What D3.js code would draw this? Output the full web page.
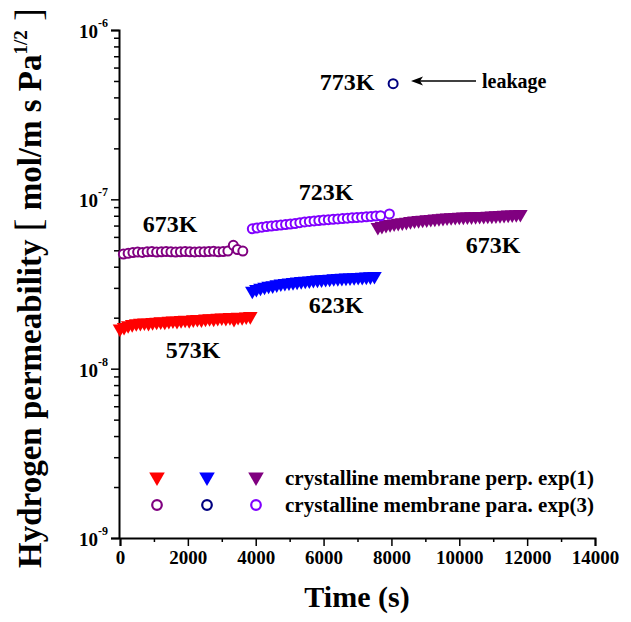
<!DOCTYPE html>
<html>
<head>
<meta charset="utf-8">
<script src="https://cdn.jsdelivr.net/npm/d3@7"></script>
<style>
  body { margin: 0; background: #fff; }
  text { font-family: "Liberation Serif", "Times New Roman", serif; font-weight: bold; }
</style>
</head>
<body>
<div id="chart"></div>
<script>
// zaman (s) ve geçirgenlik değerleri
var perp573T = [0,120,240,360,480,600,720,840,960,1080,1200,1320,1440,1560,1680,1800,1920,2040,2160,2280,2400,2520,2640,2760,2880,3000,3120,3240,3360,3480,3600,3720,3840];
var perp573V = [1.72,1.76,1.80,1.83,1.85,1.86,1.87,1.86,1.88,1.89,1.90,1.89,1.91,1.92,1.91,1.93,1.94,1.93,1.95,1.96,1.95,1.97,1.98,1.97,1.99,2.00,1.99,2.01,1.96,2.02,2.01,2.03,2.04];

var perp623T = [3900,4020,4140,4260,4380,4500,4620,4740,4860,4980,5100,5220,5340,5460,5580,5700,5820,5940,6060,6180,6300,6420,6540,6660,6780,6900,7020,7140,7260,7380,7500];
var perp623V = [2.88,2.95,3.00,3.04,3.08,3.10,3.14,3.18,3.20,3.22,3.24,3.26,3.28,3.30,3.31,3.33,3.35,3.36,3.38,3.39,3.41,3.42,3.43,3.44,3.45,3.46,3.47,3.48,3.49,3.50,3.52];

var perp673T = [7600,7720,7840,7960,8080,8200,8320,8440,8560,8680,8800,8920,9040,9160,9280,9400,9520,9640,9760,9880,10000,10120,10240,10360,10480,10600,10720,10840,10960,11080,11200,11320,11440,11560,11680,11800];
var perp673V = [6.85,6.95,7.05,7.12,7.18,7.25,7.30,7.35,7.42,7.48,7.52,7.56,7.60,7.64,7.68,7.72,7.76,7.80,7.82,7.85,7.87,7.89,7.90,7.92,7.93,7.95,7.96,7.98,8.00,8.02,8.05,8.08,8.10,8.12,8.15,8.18];

var para673T = [100,240,380,520,660,800,940,1080,1220,1360,1500,1640,1780,1920,2060,2200,2340,2480,2620,2760,2900,3040,3180,3340,3460,3620];
var para673V = [4.75,4.80,4.85,4.88,4.86,4.90,4.92,4.88,4.90,4.92,4.90,4.88,4.90,4.92,4.90,4.89,4.91,4.90,4.92,4.93,4.90,4.92,4.95,5.35,5.05,4.95];

var para723T = [3900,4040,4180,4320,4460,4600,4740,4880,5020,5160,5300,5440,5580,5720,5860,6000,6140,6280,6420,6560,6700,6840,6980,7120,7260,7400,7540,7680,7940];
var para723V = [6.70,6.78,6.85,6.90,6.95,7.00,7.05,7.10,7.15,7.20,7.28,7.35,7.40,7.45,7.50,7.55,7.58,7.62,7.66,7.70,7.74,7.78,7.80,7.84,7.88,7.92,7.96,8.00,8.20];

var para773T = [8050];
var para773V = [48.2];   // x 1e-8, leakage

var xTicks = [0,2000,4000,6000,8000,10000,12000,14000];
var yExps = [-9,-8,-7,-6];

var width = 631;
var height = 622;

var x = d3.scaleLinear().domain([0, 14000]).range([120, 595]);
var y = d3.scaleLog().domain([1e-9, 1e-6]).range([538, 30]);

var svg = d3.select("#chart").append("svg")
  .attr("width", width)
  .attr("height", height);

function pairs(ts, vs) {
  return ts.map(function(t, i) { return { t: t, v: vs[i] * 1e-8 }; });
}

// eksenler
var xAxis = svg.append("g")
  .attr("transform", "translate(0,538)")
  .call(d3.axisBottom(x).tickValues(xTicks).tickSize(8).tickPadding(5).tickFormat(d3.format("d")));
svg.append("g")
  .attr("transform", "translate(0,538)")
  .call(d3.axisBottom(x).tickValues([1000,3000,5000,7000,9000,11000,13000]).tickSize(4).tickFormat(""))
  .select(".domain").remove();
xAxis.attr("font-family", "Liberation Serif");
xAxis.selectAll("text").attr("font-size", 19).attr("fill", "#000")
  .style("font-family", "Liberation Serif").style("font-weight", "bold");

var minorY = [];
[-9, -8, -7].forEach(function(e) {
  for (var m = 2; m <= 9; m++) minorY.push(m * Math.pow(10, e));
});
var yAxis = svg.append("g")
  .attr("transform", "translate(119,0)")
  .call(d3.axisLeft(y).tickValues(yExps.map(function(e) { return Math.pow(10, e); })).tickSize(8).tickFormat(""));
svg.append("g")
  .attr("transform", "translate(119,0)")
  .call(d3.axisLeft(y).tickValues(minorY).tickSize(5).tickFormat(""))
  .select(".domain").remove();

svg.selectAll(".domain").attr("stroke", "#000").attr("stroke-width", 2);
svg.selectAll(".tick line").attr("stroke", "#000").attr("stroke-width", 1.5);

// y tick etiketleri 10^n
yExps.forEach(function(e) {
  var t = svg.append("text")
    .attr("x", 108)
    .attr("y", y(Math.pow(10, e)) + 8)
    .attr("text-anchor", "end")
    .attr("font-size", 19);
  t.append("tspan").text("10");
  t.append("tspan").attr("font-size", 12).attr("dy", -11).text(String(e));
});

// eksen başlıkları
svg.append("text")
  .attr("x", 357)
  .attr("y", 607)
  .attr("text-anchor", "middle")
  .attr("font-size", 30)
  .text("Time (s)");

var yTitle = svg.append("text")
  .attr("transform", "translate(41,288) rotate(-90)")
  .attr("text-anchor", "middle")
  .attr("font-size", 33);
yTitle.append("tspan").text("Hydrogen permeability ");
yTitle.append("tspan").style("font-weight", "normal").attr("font-size", 38).text("[");
yTitle.append("tspan").text(" mol/m s Pa");
yTitle.append("tspan").attr("font-size", 19).attr("dy", -14).text("1/2");
yTitle.append("tspan").attr("dy", 14).style("font-weight", "normal").attr("font-size", 38).text(" ]");

// üçgen serileri
var triangle = d3.symbol().type(d3.symbolTriangle).size(92);
var triSeries = [
  { data: pairs(perp573T, perp573V), color: "#ff0000" },
  { data: pairs(perp623T, perp623V), color: "#0000ff" },
  { data: pairs(perp673T, perp673V), color: "#800080" }
];
triSeries.forEach(function(s) {
  svg.append("g").selectAll("path")
    .data(s.data)
    .enter()
    .append("path")
    .attr("d", triangle)
    .attr("fill", s.color)
    .attr("transform", function(d) { return "translate(" + x(d.t) + "," + y(d.v) + ") rotate(180)"; });
});

// daire serileri
var circSeries = [
  { data: pairs(para673T, para673V), color: "#800080" },
  { data: pairs(para723T, para723V), color: "#8000ff" },
  { data: pairs(para773T, para773V), color: "#000080" }
];
circSeries.forEach(function(s) {
  svg.append("g").selectAll("circle")
    .data(s.data)
    .enter()
    .append("circle")
    .attr("cx", function(d) { return x(d.t); })
    .attr("cy", function(d) { return y(d.v); })
    .attr("r", 4.5)
    .attr("fill", "#fff")
    .attr("stroke", s.color)
    .attr("stroke-width", 2);
});

// sıcaklık etiketleri
var labels = [
  { text: "673K", x: 170, y: 232 },
  { text: "573K", x: 193, y: 358 },
  { text: "623K", x: 336, y: 313 },
  { text: "723K", x: 326, y: 200 },
  { text: "673K", x: 493, y: 253 },
  { text: "773K", x: 347, y: 90 }
];
svg.selectAll(".lbl")
  .data(labels)
  .enter()
  .append("text")
  .attr("class", "lbl")
  .attr("x", function(d) { return d.x; })
  .attr("y", function(d) { return d.y; })
  .attr("text-anchor", "middle")
  .attr("font-size", 24)
  .text(function(d) { return d.text; });

// leakage oku
svg.append("line")
  .attr("x1", 418).attr("y1", 81)
  .attr("x2", 476).attr("y2", 81)
  .attr("stroke", "#000")
  .attr("stroke-width", 1.3);
svg.append("path")
  .attr("d", "M411,81 L423,76.5 L420,81 L423,85.5 Z")
  .attr("fill", "#000");
svg.append("text")
  .attr("x", 482).attr("y", 88)
  .attr("font-size", 20)
  .text("leakage");

// lejant
var legTri = ["#ff0000", "#0000ff", "#800080"];
var legCirc = ["#800080", "#000080", "#8000ff"];
var legX = [157, 207, 256];
var bigTri = d3.symbol().type(d3.symbolTriangle).size(105);
legTri.forEach(function(c, i) {
  svg.append("path")
    .attr("d", bigTri)
    .attr("fill", c)
    .attr("transform", "translate(" + legX[i] + ",477) rotate(180)");
});
legCirc.forEach(function(c, i) {
  svg.append("circle")
    .attr("cx", legX[i]).attr("cy", 505)
    .attr("r", 4.8)
    .attr("fill", "#fff")
    .attr("stroke", c)
    .attr("stroke-width", 2.2);
});
svg.append("text").attr("x", 285).attr("y", 485).attr("font-size", 21)
  .text("crystalline membrane perp. exp(1)");
svg.append("text").attr("x", 285).attr("y", 512).attr("font-size", 21)
  .text("crystalline membrane para. exp(3)");
</script>
</body>
</html>
